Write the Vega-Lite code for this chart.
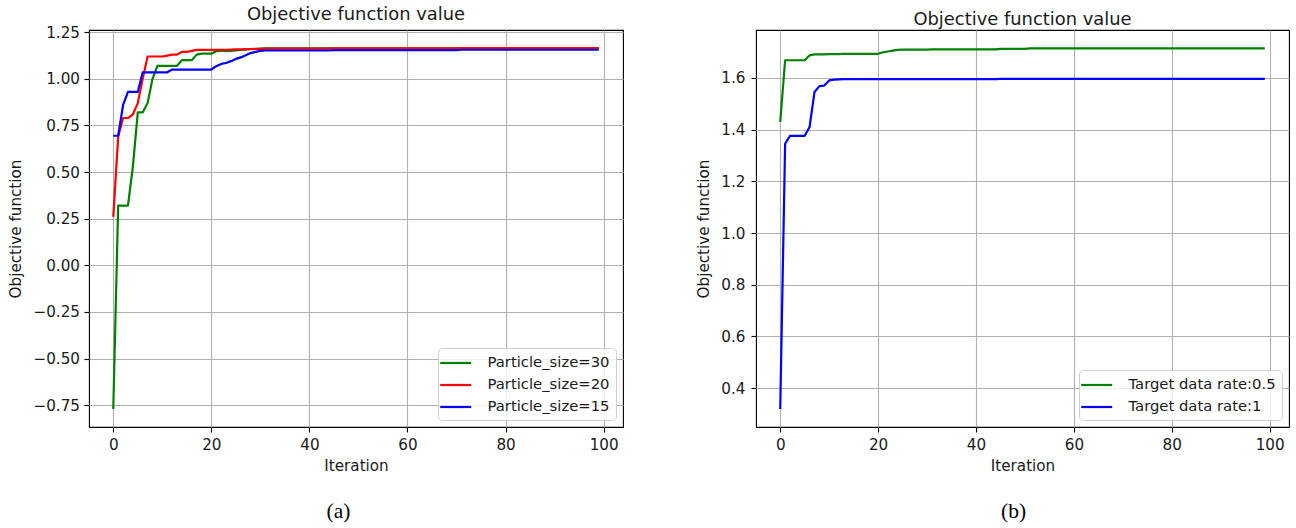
{
  "$schema": "https://vega.github.io/schema/vega-lite/v6.json",
  "background": "white",
  "padding": {"left": 8, "top": 5, "right": 0, "bottom": 0},
  "datasets": {
    "left": [
      {"i":0,"s30":-0.77,"s20":0.26,"s15":0.695},
      {"i":1,"s30":0.32,"s20":0.69,"s15":0.695},
      {"i":2,"s30":0.32,"s20":0.79,"s15":0.86},
      {"i":3,"s30":0.32,"s20":0.79,"s15":0.93},
      {"i":4,"s30":0.53,"s20":0.81,"s15":0.93},
      {"i":5,"s30":0.82,"s20":0.87,"s15":0.93},
      {"i":6,"s30":0.82,"s20":1.0,"s15":1.035},
      {"i":7,"s30":0.87,"s20":1.12,"s15":1.035},
      {"i":8,"s30":1.0,"s20":1.12,"s15":1.035},
      {"i":9,"s30":1.07,"s20":1.12,"s15":1.035},
      {"i":10,"s30":1.07,"s20":1.12,"s15":1.035},
      {"i":11,"s30":1.07,"s20":1.125,"s15":1.035},
      {"i":12,"s30":1.07,"s20":1.13,"s15":1.05},
      {"i":13,"s30":1.07,"s20":1.13,"s15":1.05},
      {"i":14,"s30":1.1,"s20":1.145,"s15":1.05},
      {"i":15,"s30":1.1,"s20":1.145,"s15":1.05},
      {"i":16,"s30":1.1,"s20":1.15,"s15":1.05},
      {"i":17,"s30":1.13,"s20":1.155,"s15":1.05},
      {"i":18,"s30":1.135,"s20":1.155,"s15":1.05},
      {"i":19,"s30":1.135,"s20":1.155,"s15":1.05},
      {"i":20,"s30":1.135,"s20":1.155,"s15":1.05},
      {"i":21,"s30":1.148,"s20":1.155,"s15":1.068},
      {"i":22,"s30":1.15,"s20":1.156,"s15":1.08},
      {"i":23,"s30":1.15,"s20":1.156,"s15":1.085},
      {"i":24,"s30":1.15,"s20":1.157,"s15":1.095},
      {"i":25,"s30":1.152,"s20":1.158,"s15":1.107},
      {"i":26,"s30":1.155,"s20":1.158,"s15":1.115},
      {"i":27,"s30":1.157,"s20":1.159,"s15":1.126},
      {"i":28,"s30":1.159,"s20":1.16,"s15":1.138},
      {"i":29,"s30":1.161,"s20":1.16,"s15":1.145},
      {"i":30,"s30":1.162,"s20":1.161,"s15":1.15},
      {"i":31,"s30":1.163,"s20":1.162,"s15":1.152},
      {"i":32,"s30":1.163,"s20":1.162,"s15":1.152},
      {"i":33,"s30":1.163,"s20":1.162,"s15":1.152},
      {"i":34,"s30":1.163,"s20":1.162,"s15":1.152},
      {"i":35,"s30":1.163,"s20":1.162,"s15":1.152},
      {"i":36,"s30":1.163,"s20":1.162,"s15":1.152},
      {"i":37,"s30":1.163,"s20":1.162,"s15":1.152},
      {"i":38,"s30":1.163,"s20":1.162,"s15":1.152},
      {"i":39,"s30":1.163,"s20":1.162,"s15":1.152},
      {"i":40,"s30":1.163,"s20":1.162,"s15":1.152},
      {"i":41,"s30":1.163,"s20":1.162,"s15":1.152},
      {"i":42,"s30":1.163,"s20":1.162,"s15":1.152},
      {"i":43,"s30":1.163,"s20":1.162,"s15":1.152},
      {"i":44,"s30":1.163,"s20":1.162,"s15":1.152},
      {"i":45,"s30":1.164,"s20":1.164,"s15":1.154},
      {"i":46,"s30":1.164,"s20":1.164,"s15":1.154},
      {"i":47,"s30":1.164,"s20":1.164,"s15":1.154},
      {"i":48,"s30":1.164,"s20":1.164,"s15":1.154},
      {"i":49,"s30":1.164,"s20":1.164,"s15":1.154},
      {"i":50,"s30":1.164,"s20":1.164,"s15":1.154},
      {"i":51,"s30":1.164,"s20":1.164,"s15":1.154},
      {"i":52,"s30":1.164,"s20":1.164,"s15":1.154},
      {"i":53,"s30":1.164,"s20":1.164,"s15":1.154},
      {"i":54,"s30":1.164,"s20":1.164,"s15":1.154},
      {"i":55,"s30":1.164,"s20":1.164,"s15":1.154},
      {"i":56,"s30":1.164,"s20":1.164,"s15":1.154},
      {"i":57,"s30":1.164,"s20":1.164,"s15":1.154},
      {"i":58,"s30":1.164,"s20":1.164,"s15":1.154},
      {"i":59,"s30":1.164,"s20":1.164,"s15":1.154},
      {"i":60,"s30":1.164,"s20":1.164,"s15":1.154},
      {"i":61,"s30":1.164,"s20":1.164,"s15":1.154},
      {"i":62,"s30":1.164,"s20":1.164,"s15":1.154},
      {"i":63,"s30":1.164,"s20":1.164,"s15":1.154},
      {"i":64,"s30":1.164,"s20":1.164,"s15":1.154},
      {"i":65,"s30":1.164,"s20":1.164,"s15":1.154},
      {"i":66,"s30":1.164,"s20":1.164,"s15":1.154},
      {"i":67,"s30":1.164,"s20":1.164,"s15":1.154},
      {"i":68,"s30":1.164,"s20":1.164,"s15":1.154},
      {"i":69,"s30":1.164,"s20":1.164,"s15":1.154},
      {"i":70,"s30":1.164,"s20":1.164,"s15":1.154},
      {"i":71,"s30":1.165,"s20":1.165,"s15":1.156},
      {"i":72,"s30":1.165,"s20":1.165,"s15":1.156},
      {"i":73,"s30":1.165,"s20":1.165,"s15":1.156},
      {"i":74,"s30":1.165,"s20":1.165,"s15":1.156},
      {"i":75,"s30":1.165,"s20":1.165,"s15":1.156},
      {"i":76,"s30":1.165,"s20":1.165,"s15":1.156},
      {"i":77,"s30":1.165,"s20":1.165,"s15":1.156},
      {"i":78,"s30":1.165,"s20":1.165,"s15":1.156},
      {"i":79,"s30":1.165,"s20":1.165,"s15":1.156},
      {"i":80,"s30":1.165,"s20":1.165,"s15":1.156},
      {"i":81,"s30":1.165,"s20":1.165,"s15":1.156},
      {"i":82,"s30":1.165,"s20":1.165,"s15":1.156},
      {"i":83,"s30":1.165,"s20":1.165,"s15":1.156},
      {"i":84,"s30":1.165,"s20":1.165,"s15":1.156},
      {"i":85,"s30":1.165,"s20":1.165,"s15":1.156},
      {"i":86,"s30":1.165,"s20":1.165,"s15":1.156},
      {"i":87,"s30":1.165,"s20":1.165,"s15":1.156},
      {"i":88,"s30":1.165,"s20":1.165,"s15":1.156},
      {"i":89,"s30":1.165,"s20":1.165,"s15":1.156},
      {"i":90,"s30":1.165,"s20":1.165,"s15":1.156},
      {"i":91,"s30":1.165,"s20":1.165,"s15":1.156},
      {"i":92,"s30":1.165,"s20":1.165,"s15":1.156},
      {"i":93,"s30":1.165,"s20":1.165,"s15":1.156},
      {"i":94,"s30":1.165,"s20":1.165,"s15":1.156},
      {"i":95,"s30":1.165,"s20":1.165,"s15":1.156},
      {"i":96,"s30":1.165,"s20":1.165,"s15":1.156},
      {"i":97,"s30":1.165,"s20":1.165,"s15":1.156},
      {"i":98,"s30":1.165,"s20":1.165,"s15":1.156},
      {"i":99,"s30":1.165,"s20":1.165,"s15":1.156}
    ],
    "right": [
      {"i":0,"r05":1.43,"r1":0.32},
      {"i":1,"r05":1.668,"r1":1.345},
      {"i":2,"r05":1.668,"r1":1.376},
      {"i":3,"r05":1.668,"r1":1.376},
      {"i":4,"r05":1.668,"r1":1.376},
      {"i":5,"r05":1.668,"r1":1.376},
      {"i":6,"r05":1.687,"r1":1.41},
      {"i":7,"r05":1.691,"r1":1.545},
      {"i":8,"r05":1.691,"r1":1.568},
      {"i":9,"r05":1.691,"r1":1.57},
      {"i":10,"r05":1.692,"r1":1.59},
      {"i":11,"r05":1.692,"r1":1.593},
      {"i":12,"r05":1.692,"r1":1.594},
      {"i":13,"r05":1.693,"r1":1.595},
      {"i":14,"r05":1.693,"r1":1.595},
      {"i":15,"r05":1.693,"r1":1.595},
      {"i":16,"r05":1.693,"r1":1.595},
      {"i":17,"r05":1.693,"r1":1.595},
      {"i":18,"r05":1.693,"r1":1.595},
      {"i":19,"r05":1.693,"r1":1.595},
      {"i":20,"r05":1.693,"r1":1.595},
      {"i":21,"r05":1.699,"r1":1.595},
      {"i":22,"r05":1.702,"r1":1.595},
      {"i":23,"r05":1.705,"r1":1.595},
      {"i":24,"r05":1.708,"r1":1.595},
      {"i":25,"r05":1.709,"r1":1.595},
      {"i":26,"r05":1.709,"r1":1.595},
      {"i":27,"r05":1.709,"r1":1.595},
      {"i":28,"r05":1.709,"r1":1.595},
      {"i":29,"r05":1.709,"r1":1.595},
      {"i":30,"r05":1.709,"r1":1.595},
      {"i":31,"r05":1.71,"r1":1.595},
      {"i":32,"r05":1.71,"r1":1.595},
      {"i":33,"r05":1.71,"r1":1.595},
      {"i":34,"r05":1.71,"r1":1.595},
      {"i":35,"r05":1.71,"r1":1.595},
      {"i":36,"r05":1.71,"r1":1.595},
      {"i":37,"r05":1.71,"r1":1.595},
      {"i":38,"r05":1.71,"r1":1.595},
      {"i":39,"r05":1.71,"r1":1.595},
      {"i":40,"r05":1.71,"r1":1.595},
      {"i":41,"r05":1.71,"r1":1.595},
      {"i":42,"r05":1.71,"r1":1.595},
      {"i":43,"r05":1.71,"r1":1.595},
      {"i":44,"r05":1.71,"r1":1.595},
      {"i":45,"r05":1.712,"r1":1.596},
      {"i":46,"r05":1.712,"r1":1.596},
      {"i":47,"r05":1.712,"r1":1.596},
      {"i":48,"r05":1.712,"r1":1.596},
      {"i":49,"r05":1.712,"r1":1.596},
      {"i":50,"r05":1.712,"r1":1.596},
      {"i":51,"r05":1.714,"r1":1.596},
      {"i":52,"r05":1.714,"r1":1.596},
      {"i":53,"r05":1.714,"r1":1.596},
      {"i":54,"r05":1.714,"r1":1.596},
      {"i":55,"r05":1.714,"r1":1.596},
      {"i":56,"r05":1.714,"r1":1.596},
      {"i":57,"r05":1.714,"r1":1.596},
      {"i":58,"r05":1.714,"r1":1.596},
      {"i":59,"r05":1.714,"r1":1.596},
      {"i":60,"r05":1.714,"r1":1.596},
      {"i":61,"r05":1.714,"r1":1.596},
      {"i":62,"r05":1.714,"r1":1.596},
      {"i":63,"r05":1.714,"r1":1.596},
      {"i":64,"r05":1.714,"r1":1.596},
      {"i":65,"r05":1.714,"r1":1.596},
      {"i":66,"r05":1.714,"r1":1.596},
      {"i":67,"r05":1.714,"r1":1.596},
      {"i":68,"r05":1.714,"r1":1.596},
      {"i":69,"r05":1.714,"r1":1.596},
      {"i":70,"r05":1.714,"r1":1.596},
      {"i":71,"r05":1.714,"r1":1.596},
      {"i":72,"r05":1.714,"r1":1.596},
      {"i":73,"r05":1.714,"r1":1.596},
      {"i":74,"r05":1.714,"r1":1.596},
      {"i":75,"r05":1.714,"r1":1.596},
      {"i":76,"r05":1.714,"r1":1.596},
      {"i":77,"r05":1.714,"r1":1.596},
      {"i":78,"r05":1.714,"r1":1.596},
      {"i":79,"r05":1.714,"r1":1.596},
      {"i":80,"r05":1.714,"r1":1.596},
      {"i":81,"r05":1.714,"r1":1.596},
      {"i":82,"r05":1.714,"r1":1.596},
      {"i":83,"r05":1.714,"r1":1.596},
      {"i":84,"r05":1.714,"r1":1.596},
      {"i":85,"r05":1.714,"r1":1.596},
      {"i":86,"r05":1.714,"r1":1.596},
      {"i":87,"r05":1.714,"r1":1.596},
      {"i":88,"r05":1.714,"r1":1.596},
      {"i":89,"r05":1.714,"r1":1.596},
      {"i":90,"r05":1.714,"r1":1.596},
      {"i":91,"r05":1.714,"r1":1.596},
      {"i":92,"r05":1.714,"r1":1.596},
      {"i":93,"r05":1.714,"r1":1.596},
      {"i":94,"r05":1.714,"r1":1.596},
      {"i":95,"r05":1.714,"r1":1.596},
      {"i":96,"r05":1.714,"r1":1.596},
      {"i":97,"r05":1.714,"r1":1.596},
      {"i":98,"r05":1.714,"r1":1.596},
      {"i":99,"r05":1.714,"r1":1.596}
    ],
    "capA": [{"t": "(a)"}],
    "capB": [{"t": "(b)"}]
  },
  "config": {
    "font": "DejaVu Sans",
    "view": {"stroke": "#000000", "strokeWidth": 1.1},
    "axis": {
      "domain": false, "grid": true, "gridColor": "#b0b0b0", "gridWidth": 1.1,
      "tickColor": "#000000", "tickWidth": 1.1, "tickSize": 5,
      "labelFont": "DejaVu Sans", "labelFontSize": 15.2, "labelColor": "#1a1a1a",
      "titleFont": "DejaVu Sans", "titleFontSize": 15.2, "titleFontWeight": "normal", "titleColor": "#1a1a1a",
      "labelFlush": false, "labelOverlap": false
    },
    "title": {"font": "DejaVu Sans", "fontSize": 17.9, "fontWeight": "normal", "color": "#1a1a1a", "offset": 1},
    "legend": {
      "labelFont": "DejaVu Sans", "labelFontSize": 14.8, "labelColor": "#1a1a1a",
      "symbolType": "M-1.65,0H2.35", "symbolSize": 240, "symbolStrokeWidth": 2.2, "labelOffset": 25.5, "rowPadding": 6,
      "padding": 6, "strokeColor": "#d0d0d0", "fillColor": "rgba(255,255,255,0.8)", "cornerRadius": 4
    },
    "line": {"strokeWidth": 2.2, "strokeJoin": "round"}
  },
  "hconcat": [
    {
      "resolve": {"scale": {"color": "independent"}, "legend": {"color": "independent"}},
      "vconcat": [
        {
          "title": "Objective function value",
          "width": 534, "height": 397,
          "data": {"name": "left"},
          "transform": [{"fold": ["s30", "s20", "s15"], "as": ["series", "v"]}],
          "mark": {"type": "line", "clip": true},
          "encoding": {
            "x": {"field": "i", "type": "quantitative", "scale": {"domain": [-4.95, 103.95], "nice": false, "zero": false},
                  "axis": {"values": [0, 20, 40, 60, 80, 100], "title": "Iteration", "labelPadding": 5, "titlePadding": 6}},
            "y": {"field": "v", "type": "quantitative", "scale": {"domain": [-0.867, 1.262], "nice": false, "zero": false},
                  "axis": {"values": [-0.75, -0.5, -0.25, 0, 0.25, 0.5, 0.75, 1, 1.25], "format": ".2f", "title": "Objective function", "labelPadding": 4.5, "titlePadding": 9}},
            "color": {"field": "series", "type": "nominal",
                      "scale": {"domain": ["s30", "s20", "s15"], "range": ["#008000", "#ff0000", "#0000ff"]},
                      "legend": {"title": null, "orient": "bottom-right", "offset": 7.5, "labelExpr": "datum.label == 's30' ? 'Particle_size=30' : datum.label == 's20' ? 'Particle_size=20' : 'Particle_size=15'"}}
          }
        },
        {
          "width": 534, "height": 24,
          "view": {"stroke": null},
          "data": {"name": "capA"},
          "mark": {"type": "text", "font": "Liberation Serif", "fontSize": 21.5, "color": "#000000", "dx": -17.5},
          "encoding": {"text": {"field": "t"}}
        }
      ],
      "spacing": 26
    },
    {
      "resolve": {"scale": {"color": "independent"}, "legend": {"color": "independent"}},
      "vconcat": [
        {
          "title": "Objective function value",
          "width": 533, "height": 397,
          "data": {"name": "right"},
          "transform": [{"fold": ["r05", "r1"], "as": ["series", "v"]}],
          "mark": {"type": "line", "clip": true},
          "encoding": {
            "x": {"field": "i", "type": "quantitative", "scale": {"domain": [-4.95, 103.95], "nice": false, "zero": false},
                  "axis": {"values": [0, 20, 40, 60, 80, 100], "title": "Iteration", "labelPadding": 5, "titlePadding": 6}},
            "y": {"field": "v", "type": "quantitative", "scale": {"domain": [0.25, 1.785], "nice": false, "zero": false},
                  "axis": {"values": [0.4, 0.6, 0.8, 1.0, 1.2, 1.4, 1.6], "format": ".1f", "title": "Objective function", "labelPadding": 6, "titlePadding": 9}},
            "color": {"field": "series", "type": "nominal",
                      "scale": {"domain": ["r05", "r1"], "range": ["#008000", "#0000ff"]},
                      "legend": {"title": null, "orient": "bottom-right", "offset": 7.5, "labelExpr": "datum.label == 'r05' ? 'Target data rate:0.5' : 'Target data rate:1'"}}
          }
        },
        {
          "width": 533, "height": 24,
          "view": {"stroke": null},
          "data": {"name": "capB"},
          "mark": {"type": "text", "font": "Liberation Serif", "fontSize": 21.5, "color": "#000000", "dx": -9},
          "encoding": {"text": {"field": "t"}}
        }
      ],
      "spacing": 26
    }
  ],
  "spacing": 72,
  "resolve": {"scale": {"color": "independent"}, "legend": {"color": "independent"}}
}
